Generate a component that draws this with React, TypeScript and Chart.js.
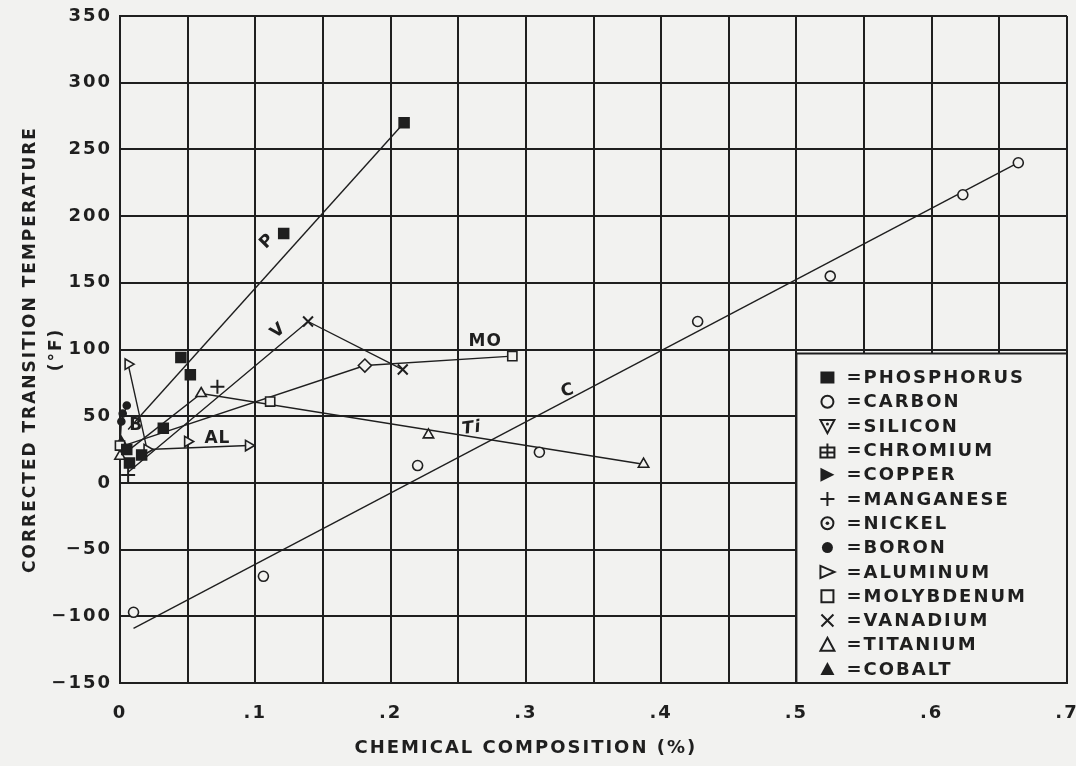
import React, { useEffect, useRef } from 'react';
import { Chart, registerables } from 'chart.js';

Chart.register(...registerables);

const PAPER = '#f2f2f0';
const INK = '#1f1f1f';
const FONT = '"DejaVu Sans", "Liberation Sans", sans-serif';

// ---------- marker data (chemical composition %, corrected transition temperature °F) ----------
const phosphorusX = [0.005, 0.007, 0.016, 0.032, 0.045, 0.052, 0.121, 0.21];
const phosphorusY = [25, 15, 21, 41, 94, 81, 187, 270];
const carbonX = [0.01, 0.106, 0.22, 0.31, 0.427, 0.525, 0.623, 0.664];
const carbonY = [-97, -70, 13, 23, 121, 155, 216, 240];
const manganeseX = [0.006, 0.072];
const manganeseY = [6, 72];
const boronX = [0.005, 0.002, 0.001];
const boronY = [58, 52, 46];
const aluminumX = [0.006, 0.02, 0.05, 0.095];
const aluminumY = [89, 25, 31, 28];
const molybdenumX = [0.0, 0.111, 0.181, 0.29];
const molybdenumY = [28, 61, 88, 95];
const molybdenumRot = [0, 0, 45, 0];
const vanadiumX = [0.139, 0.209];
const vanadiumY = [121, 85];
const titaniumX = [0.0, 0.06, 0.228, 0.387];
const titaniumY = [20, 67, 36, 14];
const cobaltX = [0.001];
const cobaltY = [31];

// ---------- drawn trend lines ----------
const pLineX = [0.006, 0.21];
const pLineY = [40, 270];
const cLineX = [0.01, 0.664];
const cLineY = [-109, 240];
const vLineX = [0.006, 0.139, 0.209];
const vLineY = [8, 121, 85];
const moLineX = [0.0, 0.181, 0.29];
const moLineY = [27, 88, 95];
const tiLineX = [0.002, 0.06, 0.387];
const tiLineY = [21, 67, 14];
const alLineX = [0.006, 0.02, 0.095];
const alLineY = [89, 25, 28];
const bLineX = [0.005, 0.001, 0.0];
const bLineY = [58, 46, 28];

// ---------- line labels written on the plot ----------
const noteText = ['P', 'V', 'MO', 'Ti', 'C', 'AL', 'B'];
const noteX = [0.109, 0.117, 0.27, 0.26, 0.331, 0.072, 0.012];
const noteY = [181, 114, 106, 41, 69, 33, 43];
const noteRot = [-45, -40, 0, -8, -15, 0, 0];

// ---------- legend ----------
const legendNames = [
  'PHOSPHORUS', 'CARBON', 'SILICON', 'CHROMIUM', 'COPPER', 'MANGANESE', 'NICKEL',
  'BORON', 'ALUMINUM', 'MOLYBDENUM', 'VANADIUM', 'TITANIUM', 'COBALT',
];
const legendSymbols = [
  'fsquare', 'circle', 'dtriangle', 'crossbox', 'frtriangle', 'plus', 'dotcircle',
  'fcircle', 'rtriangle', 'square', 'x', 'triangle', 'ftriangle',
];

// ---------- axes ----------
const xMin = 0;
const xMax = 0.7;
const xStep = 0.05;
const yMin = -150;
const yMax = 350;
const yStep = 50;
const xTitle = 'CHEMICAL COMPOSITION (%)';
const yTitle = ['CORRECTED TRANSITION TEMPERATURE', '(°F)'];

const pts = (xs: number[], ys: number[]) => xs.map((x, i) => ({ x, y: ys[i] }));

function drawSymbol(ctx: CanvasRenderingContext2D, kind: string, cx: number, cy: number) {
  const s = 7;
  ctx.save();
  ctx.lineWidth = 2;
  ctx.strokeStyle = INK;
  ctx.fillStyle = INK;
  ctx.beginPath();
  switch (kind) {
    case 'fsquare':
      ctx.fillRect(cx - s, cy - s + 1, 2 * s, 2 * s - 2);
      break;
    case 'circle':
      ctx.arc(cx, cy, s - 1, 0, Math.PI * 2);
      ctx.stroke();
      break;
    case 'dtriangle':
      ctx.moveTo(cx - s, cy - s + 1);
      ctx.lineTo(cx + s, cy - s + 1);
      ctx.lineTo(cx, cy + s);
      ctx.closePath();
      ctx.stroke();
      ctx.beginPath();
      ctx.arc(cx, cy - 2, 1.5, 0, Math.PI * 2);
      ctx.fill();
      break;
    case 'crossbox':
      ctx.rect(cx - s, cy - s + 4, 2 * s, 2 * s - 4);
      ctx.moveTo(cx - s, cy + 2);
      ctx.lineTo(cx + s, cy + 2);
      ctx.moveTo(cx, cy - s);
      ctx.lineTo(cx, cy + s);
      ctx.stroke();
      break;
    case 'frtriangle':
      ctx.moveTo(cx - s, cy - s);
      ctx.lineTo(cx + s, cy);
      ctx.lineTo(cx - s, cy + s);
      ctx.closePath();
      ctx.fill();
      break;
    case 'plus':
      ctx.moveTo(cx - s, cy);
      ctx.lineTo(cx + s, cy);
      ctx.moveTo(cx, cy - s);
      ctx.lineTo(cx, cy + s);
      ctx.stroke();
      break;
    case 'dotcircle':
      ctx.arc(cx, cy, s - 1, 0, Math.PI * 2);
      ctx.stroke();
      ctx.beginPath();
      ctx.arc(cx, cy, 1.8, 0, Math.PI * 2);
      ctx.fill();
      break;
    case 'fcircle':
      ctx.arc(cx, cy, s - 1.5, 0, Math.PI * 2);
      ctx.fill();
      break;
    case 'rtriangle':
      ctx.moveTo(cx - s, cy - s + 1);
      ctx.lineTo(cx + s, cy);
      ctx.lineTo(cx - s, cy + s - 1);
      ctx.closePath();
      ctx.stroke();
      break;
    case 'square':
      ctx.rect(cx - s + 1, cy - s + 1, 2 * s - 2, 2 * s - 2);
      ctx.stroke();
      break;
    case 'x':
      ctx.moveTo(cx - s + 1, cy - s + 1);
      ctx.lineTo(cx + s - 1, cy + s - 1);
      ctx.moveTo(cx + s - 1, cy - s + 1);
      ctx.lineTo(cx - s + 1, cy + s - 1);
      ctx.stroke();
      break;
    case 'triangle':
      ctx.moveTo(cx, cy - s);
      ctx.lineTo(cx + s, cy + s - 1);
      ctx.lineTo(cx - s, cy + s - 1);
      ctx.closePath();
      ctx.stroke();
      break;
    case 'ftriangle':
      ctx.moveTo(cx, cy - s);
      ctx.lineTo(cx + s, cy + s - 1);
      ctx.lineTo(cx - s, cy + s - 1);
      ctx.closePath();
      ctx.fill();
      break;
  }
  ctx.restore();
}

const paperPlugin = {
  id: 'paperPlugin',
  beforeDraw(chart: any) {
    const { ctx, width, height } = chart;
    ctx.save();
    ctx.fillStyle = PAPER;
    ctx.fillRect(0, 0, width, height);
    ctx.restore();
    (ctx as any).letterSpacing = '2px';
  },
  beforeDatasetsDraw(chart: any) {
    const { ctx } = chart;
    const xs = chart.scales.x;
    const ys = chart.scales.y;
    const l = xs.getPixelForValue(0.5);
    const r = xs.getPixelForValue(0.7);
    const t = ys.getPixelForValue(97);
    const b = ys.getPixelForValue(-150);
    ctx.save();
    ctx.fillStyle = PAPER;
    ctx.fillRect(l, t, r - l, b - t);
    ctx.strokeStyle = INK;
    ctx.lineWidth = 2;
    ctx.strokeRect(l, t, r - l, b - t);
    ctx.restore();
  },
  afterDatasetsDraw(chart: any) {
    const { ctx } = chart;
    const xs = chart.scales.x;
    const ys = chart.scales.y;
    // legend entries
    const l = xs.getPixelForValue(0.5);
    const t = ys.getPixelForValue(97);
    ctx.save();
    (ctx as any).letterSpacing = '2px';
    ctx.font = `bold 18px ${FONT}`;
    ctx.fillStyle = INK;
    ctx.textBaseline = 'middle';
    ctx.textAlign = 'left';
    legendNames.forEach((name, i) => {
      const cy = t + 24 + i * 24.3;
      drawSymbol(ctx, legendSymbols[i], l + 31, cy);
      ctx.fillText('=' + name, l + 50, cy + 1);
    });
    ctx.restore();
    // notes on lines
    ctx.save();
    (ctx as any).letterSpacing = '1px';
    ctx.fillStyle = INK;
    ctx.textAlign = 'center';
    ctx.textBaseline = 'middle';
    noteText.forEach((txt, i) => {
      ctx.save();
      ctx.translate(xs.getPixelForValue(noteX[i]), ys.getPixelForValue(noteY[i]));
      ctx.rotate((noteRot[i] * Math.PI) / 180);
      ctx.font = `${txt === 'Ti' ? 'italic ' : ''}600 17px ${FONT}`;
      ctx.fillText(txt, 0, 0);
      ctx.restore();
    });
    ctx.restore();
  },
  afterDraw(chart: any) {
    const { ctx } = chart;
    const xs = chart.scales.x;
    ctx.save();
    (ctx as any).letterSpacing = '2px';
    ctx.font = `bold 18px ${FONT}`;
    ctx.fillStyle = INK;
    ctx.textAlign = 'center';
    ctx.textBaseline = 'middle';
    ctx.fillText(xTitle, xs.getPixelForValue(0.3), chart.height - 18);
    ctx.restore();
  },
};

export default function App() {
  const ref = useRef<HTMLCanvasElement | null>(null);

  useEffect(() => {
    if (!ref.current) return;
    const lineDs = (label: string, xs: number[], ys: number[]) => ({
      label,
      data: pts(xs, ys),
      showLine: true,
      borderColor: INK,
      borderWidth: 1.4,
      pointRadius: 0,
      fill: false,
      tension: 0,
      clip: false,
    });
    const markerDs = (label: string, xs: number[], ys: number[], style: any, radius: number, filled: boolean, extra: any = {}) => ({
      label,
      data: pts(xs, ys),
      showLine: false,
      pointStyle: style,
      pointRadius: radius,
      pointBackgroundColor: filled ? INK : PAPER,
      pointBorderColor: INK,
      pointBorderWidth: 1.6,
      backgroundColor: filled ? INK : PAPER,
      borderColor: INK,
      clip: false,
      ...extra,
    });

    const chart = new Chart(ref.current, {
      type: 'scatter',
      data: {
        datasets: [
          markerDs('Phosphorus', phosphorusX, phosphorusY, 'rect', 7, true),
          markerDs('Carbon', carbonX, carbonY, 'circle', 5, false),
          markerDs('Manganese', manganeseX, manganeseY, 'cross', 7, false, { pointBorderWidth: 2 }),
          markerDs('Boron', boronX, boronY, 'circle', 3.5, true),
          markerDs('Aluminum', aluminumX, aluminumY, 'triangle', 6, false, { pointRotation: 90 }),
          markerDs('Molybdenum', molybdenumX, molybdenumY, 'rect', 6.5, false, { pointRotation: molybdenumRot }),
          markerDs('Vanadium', vanadiumX, vanadiumY, 'crossRot', 7, false, { pointBorderWidth: 2 }),
          markerDs('Titanium', titaniumX, titaniumY, 'triangle', 6, false),
          markerDs('Cobalt', cobaltX, cobaltY, 'triangle', 5, true),
          lineDs('Phosphorus trend', pLineX, pLineY),
          lineDs('Carbon trend', cLineX, cLineY),
          lineDs('Vanadium trend', vLineX, vLineY),
          lineDs('Molybdenum trend', moLineX, moLineY),
          lineDs('Titanium trend', tiLineX, tiLineY),
          lineDs('Aluminum trend', alLineX, alLineY),
          lineDs('Boron trend', bLineX, bLineY),
        ],
      },
      options: {
        responsive: false,
        animation: false,
        devicePixelRatio: 1,
        layout: { padding: { top: 16, right: 9, left: 0, bottom: 0 } },
        plugins: {
          legend: { display: false },
          tooltip: { enabled: false },
        },
        scales: {
          x: {
            type: 'linear',
            min: xMin,
            max: xMax,
            grid: { color: INK, lineWidth: 2, drawTicks: false },
            border: { color: INK, width: 2 },
            ticks: {
              stepSize: xStep,
              autoSkip: false,
              maxRotation: 0,
              padding: 20,
              color: INK,
              font: { family: FONT, size: 18, weight: 'bold' },
              callback: (v: any) => {
                const n = Math.round(Number(v) * 100);
                if (n % 10 !== 0) return '';
                if (n === 0) return '0';
                return '.' + n / 10;
              },
            },
            afterFit: (s: any) => {
              s.height = 83;
              s.paddingLeft = 0;
              s.paddingRight = 0;
            },
          },
          y: {
            type: 'linear',
            min: yMin,
            max: yMax,
            grid: { color: INK, lineWidth: 2, drawTicks: false },
            border: { color: INK, width: 2 },
            ticks: {
              stepSize: yStep,
              padding: 8,
              color: INK,
              font: { family: FONT, size: 18, weight: 'bold' },
              callback: (v: any) => (Number(v) < 0 ? '\u2212' + Math.abs(Number(v)) : String(v)),
            },
            title: {
              display: true,
              text: yTitle,
              color: INK,
              font: { family: FONT, size: 17, weight: 'bold', lineHeight: 1.5 },
              padding: { top: 18, bottom: 0 },
            },
            afterFit: (s: any) => {
              s.width = 120;
              s.paddingTop = 0;
              s.paddingBottom = 0;
            },
          },
        },
      } as any,
      plugins: [paperPlugin],
    });
    return () => chart.destroy();
  }, []);

  return (
    <div style={{ position: 'fixed', left: 0, top: 0, width: 1076, height: 766, background: PAPER }}>
      <canvas ref={ref} width={1076} height={766} style={{ display: 'block' }} />
    </div>
  );
}
